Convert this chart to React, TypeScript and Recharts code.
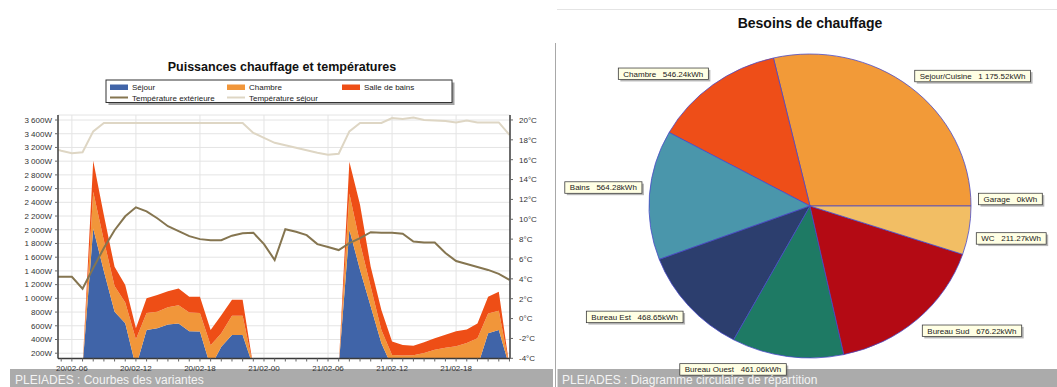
import React from 'react';
import { ComposedChart, Area, Line, XAxis, YAxis, CartesianGrid, PieChart, Pie, Cell } from 'recharts';

const FONT = "'Liberation Sans', Arial, sans-serif";

// ---------- Left chart data ----------
const HOURS = [4.7, 5, 6, 7, 8, 9, 10, 11, 12, 13, 14, 15, 16, 17, 18, 19, 20, 21, 22, 23, 24, 25, 26, 27, 28, 29, 30, 31, 32, 33, 34, 35, 36, 37, 38, 39, 40, 41, 42, 43, 44, 45, 46, 47];
const SEJOUR_W = [0, 0, 0, 0, 2020, 1395, 805, 636, 0, 540, 565, 620, 635, 520, 515, 0, 295, 465, 465, 0, 0, 0, 0, 0, 0, 0, 0, 0, 2000, 1415, 880, 345, 0, 0, 0, 0, 0, 0, 0, 0, 0, 490, 540, 0];
const CHAMBRE_W = [0, 0, 0, 0, 535, 450, 375, 305, 405, 245, 240, 250, 265, 275, 270, 315, 195, 280, 280, 0, 0, 0, 0, 0, 0, 0, 0, 0, 530, 390, 290, 195, 175, 165, 170, 205, 250, 280, 300, 350, 420, 290, 280, 0];
const SDB_W = [0, 0, 0, 0, 450, 365, 280, 255, 160, 215, 245, 235, 245, 230, 240, 225, 265, 235, 235, 0, 0, 0, 0, 0, 0, 0, 0, 0, 460, 560, 290, 290, 195, 155, 140, 155, 170, 190, 220, 195, 215, 245, 275, 0];
const T_EXT = [4.2, 4.2, 4.2, 3.0, 5.1, 7.1, 8.9, 10.3, 11.2, 10.8, 10.1, 9.3, 8.8, 8.3, 8.0, 7.9, 7.9, 8.35, 8.6, 8.65, 7.5, 5.9, 9.0, 8.75, 8.4, 7.5, 7.2, 6.9, 7.6, 8.1, 8.7, 8.65, 8.65, 8.55, 7.75, 7.65, 7.65, 6.6, 5.8, 5.5, 5.2, 4.9, 4.5, 3.9];
const T_SEJ = [17.0, 16.9, 16.65, 16.75, 18.85, 19.7, 19.7, 19.7, 19.7, 19.7, 19.7, 19.7, 19.7, 19.7, 19.7, 19.7, 19.7, 19.7, 19.7, 18.7, 18.2, 17.7, 17.45, 17.2, 16.95, 16.7, 16.5, 16.6, 18.85, 19.7, 19.7, 19.7, 20.2, 20.1, 20.25, 20.0, 19.95, 19.9, 19.75, 19.95, 19.75, 19.75, 19.75, 18.5];

const X_DOMAIN: [number, number] = [4.7, 47.05];
const X_MINOR_TICKS = [5, 6, 7, 8, 9, 10, 11, 12, 13, 14, 15, 16, 17, 18, 19, 20, 21, 22, 23, 24, 25, 26, 27, 28, 29, 30, 31, 32, 33, 34, 35, 36, 37, 38, 39, 40, 41, 42, 43, 44, 45, 46, 47];
const X_TICK_HOURS = [6, 12, 18, 24, 30, 36, 42];
const X_TICK_LABELS = ['20/02-06', '20/02-12', '20/02-18', '21/02-00', '21/02-06', '21/02-12', '21/02-18'];
const W_TICKS = [200, 400, 600, 800, 1000, 1200, 1400, 1600, 1800, 2000, 2200, 2400, 2600, 2800, 3000, 3200, 3400, 3600];
const W_DOMAIN: [number, number] = [123, 3673];
const T_TICKS = [-4, -2, 0, 2, 4, 6, 8, 10, 12, 14, 16, 18, 20];
const T_DOMAIN: [number, number] = [-4.02, 20.5];

const SERIES_NAMES = ['Séjour', 'Chambre', 'Salle de bains', 'Température extérieure', 'Température séjour'];
const SERIES_COLORS = ['#4064A8', '#F1963A', '#EE4E16', '#857550', '#DED6C4'];

// ---------- Pie data ----------
const PIE_NAMES = ['Sejour/Cuisine', 'Chambre', 'Bains', 'Bureau Est', 'Bureau Ouest', 'Bureau Sud', 'WC', 'Garage'];
const PIE_VALUES = [1175.52, 546.24, 564.28, 468.65, 461.06, 676.22, 211.27, 0];
const PIE_VALUE_LABELS = ['1 175.52kWh', '546.24kWh', '564.28kWh', '468.65kWh', '461.06kWh', '676.22kWh', '211.27kWh', '0kWh'];
const PIE_COLORS = ['#F29A38', '#EE4E18', '#4A96AB', '#2C3E6E', '#1E7A64', '#B40A14', '#F2BE64', '#E8E8E8'];

const data = HOURS.map((h, i) => ({
  h,
  sejour: SEJOUR_W[i],
  chambre: CHAMBRE_W[i],
  sdb: SDB_W[i],
  text: T_EXT[i],
  tsej: T_SEJ[i],
}));

const pieData = PIE_NAMES.map((name, i) => ({ name, value: PIE_VALUES[i], label: PIE_VALUE_LABELS[i] }));

const formatW = (v: number) => {
  if (v >= 1000) {
    const th = Math.floor(v / 1000);
    const rest = String(v % 1000).padStart(3, '0');
    return `${th} ${rest}W`;
  }
  return `${v}W`;
};

const formatX = (v: number) => {
  const i = X_TICK_HOURS.indexOf(v);
  return i >= 0 ? X_TICK_LABELS[i] : '';
};

let measureCtx: CanvasRenderingContext2D | null = null;
function measure(t: string, font: string): number {
  try {
    if (typeof document !== 'undefined') {
      if (!measureCtx) measureCtx = document.createElement('canvas').getContext('2d');
      if (measureCtx) {
        measureCtx.font = font;
        return measureCtx.measureText(t).width;
      }
    }
  } catch (e) {
    /* ignore */
  }
  return t.length * 4.4;
}

const SQ = 0.944; // vertical squash of the pie (elliptic pie in the reference)

const renderPieLabel = (p: any) => {
  const RAD = Math.PI / 180;
  const c = Math.cos(p.midAngle * RAD);
  const s = Math.sin(p.midAngle * RAD);
  const ex = p.cx + p.outerRadius * c;
  const ey = p.cy - p.outerRadius * s;
  const ax = ex + 7.5 * c;
  const up = s > -0.01;
  const dyTarget = up ? -(7 + 5 * Math.abs(s)) : 7 + 6 * Math.abs(s);
  const ay = ey + dyTarget / SQ;
  const entry = pieData[p.index];
  const text = `${entry.name}   ${entry.label}`;
  const w = measure(text, `8px ${FONT}`) + 10;
  const h = 12.2;
  const bx = c >= 0 ? ax : ax - w;
  const by = ay - h / 2;
  return (
    <g key={`lbl-${p.index}`}>
      <rect x={bx + 2} y={by + 2} width={w} height={h} fill="#7a7a7a" opacity={0.55} />
      <rect x={bx} y={by} width={w} height={h} fill="#FFFFE4" stroke="#3a3a3a" strokeWidth={0.8} />
      <text x={bx + 5} y={ay + 3} fontSize={8} fontFamily={FONT} fill="#222" xmlSpace="preserve" style={{ whiteSpace: 'pre' }}>
        {text}
      </text>
    </g>
  );
};

const tickStyle = { fontSize: 8, fill: '#333', fontFamily: FONT };
const frame = { stroke: '#3a3a3a', strokeWidth: 1.5 };

export default function App() {
  const legendCols = [110, 227, 342];
  return (
    <div style={{ position: 'absolute', left: 0, top: 0, width: 1057, height: 387, overflow: 'hidden', background: '#fff', fontFamily: FONT }}>
      <svg style={{ position: 'absolute', left: 0, top: 0 }} width={1057} height={387}>
        <rect x={10} y={369} width={543} height={18} fill="#ABABAB" />
        <rect x={557.5} y={369} width={500} height={18} fill="#ABABAB" />
        <line x1={555.5} y1={43} x2={555.5} y2={387} stroke="#A8A8A8" strokeWidth={1} />
        <line x1={557} y1={9.5} x2={1057} y2={9.5} stroke="#E4E4E4" strokeWidth={1} />
      </svg>

      <div style={{ position: 'absolute', left: 0, top: 0 }}>
        <ComposedChart width={555} height={387} data={data} margin={{ top: 115, right: 0, bottom: 8.5, left: 0 }}>
          <CartesianGrid
            xAxisId="main"
            yAxisId="left"
            stroke="#E4E4E4"
            strokeWidth={1}
            verticalCoordinatesGenerator={(props: any) => {
              const off = props.offset;
              return X_TICK_HOURS.map((h) => off.left + ((h - X_DOMAIN[0]) / (X_DOMAIN[1] - X_DOMAIN[0])) * off.width);
            }}
          />
          <XAxis
            xAxisId="main"
            type="number"
            dataKey="h"
            domain={X_DOMAIN}
            allowDataOverflow
            ticks={X_MINOR_TICKS}
            interval={0}
            tickFormatter={formatX}
            tick={tickStyle}
            tickSize={3}
            tickMargin={4}
            height={20}
            axisLine={frame}
            tickLine={{ stroke: '#666' }}
          />
          <XAxis xAxisId="top" orientation="top" type="number" domain={[0, 1]} tick={false} tickLine={false} height={0} axisLine={frame} />
          <YAxis
            yAxisId="left"
            orientation="left"
            type="number"
            domain={W_DOMAIN}
            allowDataOverflow
            ticks={W_TICKS}
            interval={0}
            tickFormatter={formatW}
            tick={tickStyle}
            width={58}
            tickSize={3}
            tickMargin={3}
            axisLine={frame}
            tickLine={{ stroke: '#666' }}
          />
          <YAxis
            yAxisId="right"
            orientation="right"
            type="number"
            domain={T_DOMAIN}
            allowDataOverflow
            ticks={T_TICKS}
            interval={0}
            tickFormatter={(v: number) => `${v}°C`}
            tick={tickStyle}
            width={45}
            tickSize={3}
            tickMargin={6}
            axisLine={frame}
            tickLine={{ stroke: '#666' }}
          />
          <Area xAxisId="main" yAxisId="left" type="linear" dataKey="sejour" name={SERIES_NAMES[0]} stackId="p" fill={SERIES_COLORS[0]} fillOpacity={1} stroke="none" isAnimationActive={false} />
          <Area xAxisId="main" yAxisId="left" type="linear" dataKey="chambre" name={SERIES_NAMES[1]} stackId="p" fill={SERIES_COLORS[1]} fillOpacity={1} stroke="none" isAnimationActive={false} />
          <Area xAxisId="main" yAxisId="left" type="linear" dataKey="sdb" name={SERIES_NAMES[2]} stackId="p" fill={SERIES_COLORS[2]} fillOpacity={1} stroke="none" isAnimationActive={false} />
          <Line xAxisId="main" yAxisId="right" type="linear" dataKey="tsej" name={SERIES_NAMES[4]} stroke={SERIES_COLORS[4]} strokeWidth={2} dot={false} isAnimationActive={false} />
          <Line xAxisId="main" yAxisId="right" type="linear" dataKey="text" name={SERIES_NAMES[3]} stroke={SERIES_COLORS[3]} strokeWidth={2} dot={false} isAnimationActive={false} />
        </ComposedChart>
      </div>

      <div style={{ position: 'absolute', left: 555, top: 0, transform: `scaleY(${SQ})`, transformOrigin: '0px 206px' }}>
        <PieChart width={502} height={387} margin={{ top: 0, right: 0, bottom: 0, left: 0 }}>
          <Pie
            data={pieData}
            dataKey="value"
            nameKey="name"
            cx={255}
            cy={206}
            innerRadius={0}
            outerRadius={161}
            startAngle={0}
            endAngle={360}
            stroke="#4848C8"
            strokeWidth={0.8}
            label={renderPieLabel}
            labelLine={false}
            isAnimationActive={false}
          >
            {pieData.map((d, i) => (
              <Cell key={d.name} fill={PIE_COLORS[i]} />
            ))}
          </Pie>
        </PieChart>
      </div>

      <svg style={{ position: 'absolute', left: 0, top: 0, pointerEvents: 'none' }} width={1057} height={387}>
        <text x={282} y={70.5} textAnchor="middle" fontSize={12.5} fontWeight="bold" fontFamily={FONT} fill="#111">
          Puissances chauffage et températures
        </text>
        <text x={810} y={28.3} textAnchor="middle" fontSize={14} fontWeight="bold" fontFamily={FONT} fill="#111">
          Besoins de chauffage
        </text>

        <rect x={108.5} y={82.5} width={346} height={22.5} fill="#666" opacity={0.6} />
        <rect x={106} y={80} width={346} height={22.5} fill="#fff" stroke="#333" strokeWidth={1} />
        {[0, 1, 2].map((i) => (
          <g key={`lg${i}`}>
            <rect x={legendCols[i]} y={84.5} width={18} height={5.5} fill={SERIES_COLORS[i]} />
            <text x={legendCols[i] + 22} y={90} fontSize={8} fontFamily={FONT} fill="#222">
              {SERIES_NAMES[i]}
            </text>
          </g>
        ))}
        {[3, 4].map((i, k) => (
          <g key={`lg${i}`}>
            <line x1={legendCols[k]} y1={97.5} x2={legendCols[k] + 18} y2={97.5} stroke={SERIES_COLORS[i]} strokeWidth={2} />
            <text x={legendCols[k] + 22} y={100.5} fontSize={8} fontFamily={FONT} fill="#222">
              {SERIES_NAMES[i]}
            </text>
          </g>
        ))}

        <text x={15} y={384} fontSize={12} fontFamily={FONT} fill="#F4F4F4">
          PLEIADES : Courbes des variantes
        </text>
        <text x={562} y={384} fontSize={12} fontFamily={FONT} fill="#F4F4F4">
          PLEIADES : Diagramme circulaire de répartition
        </text>
      </svg>
    </div>
  );
}
